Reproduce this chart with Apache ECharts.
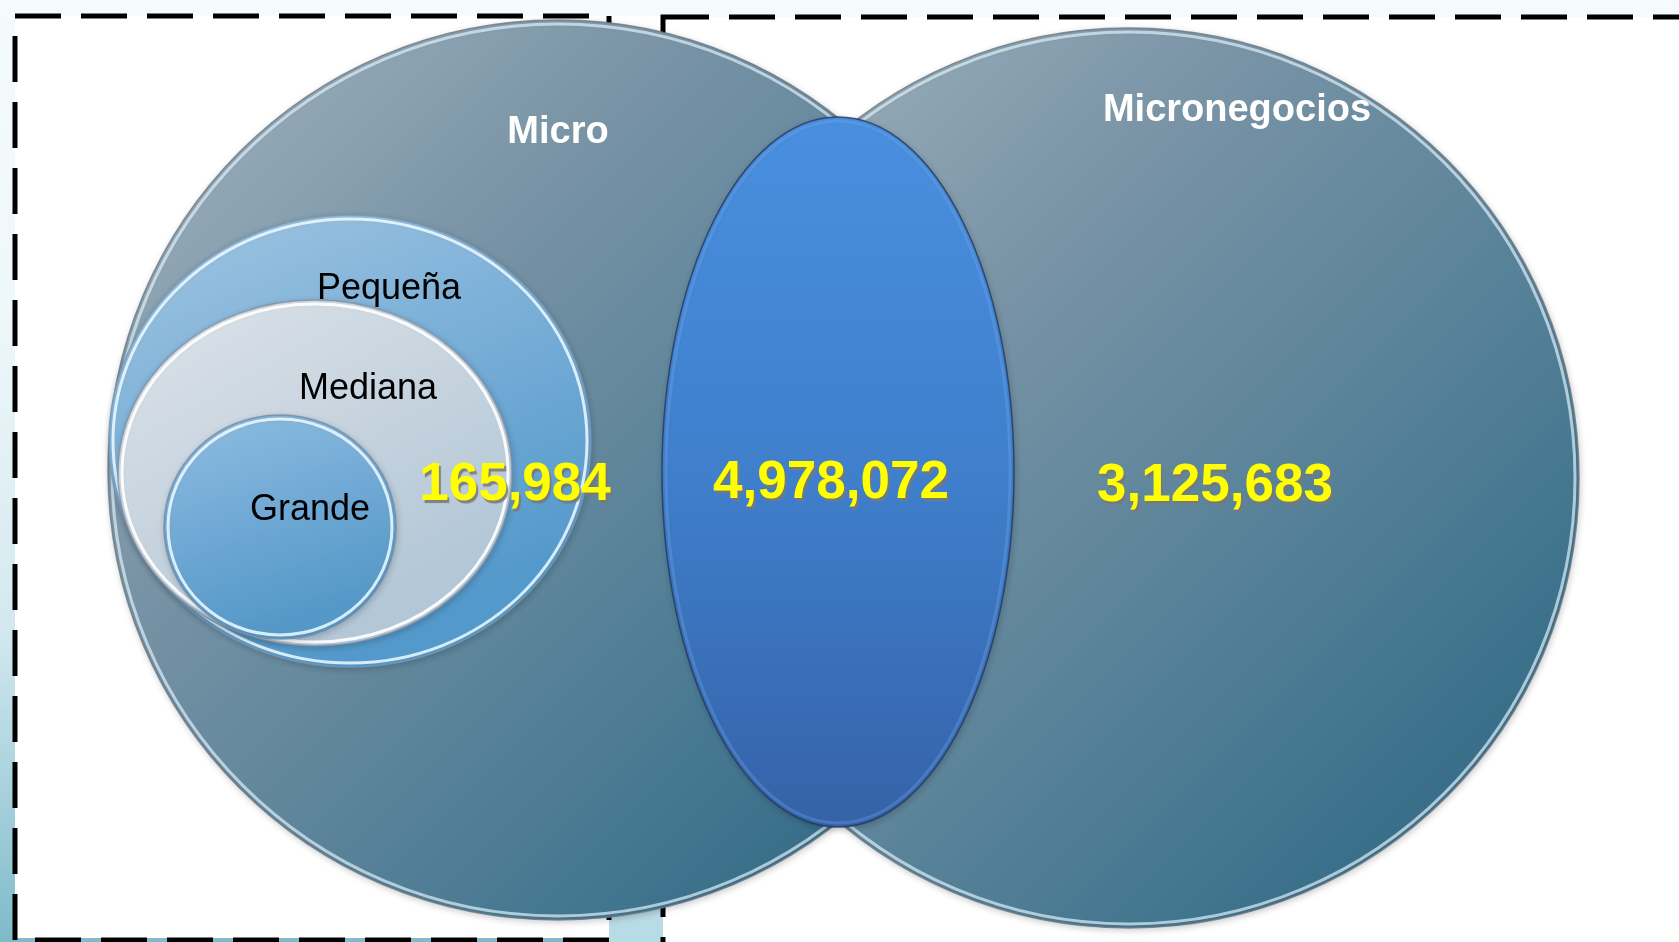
<!DOCTYPE html>
<html>
<head>
<meta charset="utf-8">
<title>Micro, Pequeña, Mediana, Grande y Micronegocios</title>
<script src="https://cdn.jsdelivr.net/npm/echarts@6/dist/echarts.min.js"></script>
<style>
  html, body { margin: 0; padding: 0; }
  #chart { width: 1679px; height: 942px; }
</style>
</head>
<body>
<div id="chart"></div>
<script>
// set names and counts
const setNames = ['Micro', 'Micronegocios', 'Pequeña', 'Mediana', 'Grande'];
const countValues = [165984, 4978072, 3125683];

// diagram layout, in drawing units (same scale as the axes)
const shapeCx = [558, 1129, 838, 350, 315, 280];
const shapeCy = [470, 478, 472, 441, 473, 527];
const shapeRx = [450, 450, 176, 241, 197, 116];
const shapeRy = [450, 450, 355, 226, 173, 112];
const nameX = [558, 1237, 389, 368, 310];
const nameY = [133, 111, 289, 389, 510];
const countX = [515, 831, 1215];
const countY = [485, 483, 486];

const FONT = 'Liberation Sans, Arial, sans-serif';

function grad(x2, y2, stops) {
    return {
        type: 'linear', x: 0, y: 0, x2: x2, y2: y2,
        colorStops: stops.map(function (c, i) {
            return { offset: i / (stops.length - 1), color: c };
        })
    };
}

// look of each shape: big circles, intersection, Pequeña, Mediana, Grande
const shapeLook = [
    { fill: grad(1, 1, ['#a4b6c2', '#7893a5', '#4f7d95', '#25627f']), edge: 'rgba(110,120,130,0.8)', rim: 'rgba(222,240,250,0.7)' },
    { fill: grad(1, 1, ['#a4b6c2', '#7893a5', '#4f7d95', '#25627f']), edge: 'rgba(110,120,130,0.8)', rim: 'rgba(222,240,250,0.7)' },
    { fill: grad(0, 1, ['#4a8fe0', '#3f7fcc', '#3562a8']), edge: 'rgba(35,55,95,0.8)', rim: 'rgba(120,175,240,0.3)' },
    { fill: grad(0.4, 1, ['#a2c6e1', '#7aafd8', '#5499cb']), edge: 'rgba(120,150,175,0.8)', rim: 'rgba(240,250,255,0.85)' },
    { fill: grad(0.5, 1, ['#dde3ea', '#c9d5df', '#b3c7d7']), edge: 'rgba(130,145,160,0.8)', rim: 'rgba(255,255,255,0.9)' },
    { fill: grad(0.3, 1, ['#8fbee0', '#72aad6', '#5498c7']), edge: 'rgba(110,140,170,0.8)', rim: 'rgba(240,250,255,0.85)' }
];

const shapeData = shapeCx.map(function (x, i) {
    return [x, shapeCy[i], shapeRx[i], shapeRy[i], i];
});

const nameData = setNames.map(function (n, i) {
    const big = i < 2;
    return {
        name: n,
        value: [nameX[i], nameY[i]],
        label: {
            color: big ? '#ffffff' : '#000000',
            fontWeight: big ? 'bold' : 'normal',
            fontSize: big ? 38 : 36
        }
    };
});

const countData = countValues.map(function (v, i) {
    return {
        name: v.toLocaleString('en-US'),
        value: [countX[i], countY[i]]
    };
});

const chart = echarts.init(document.getElementById('chart'));

const option = {
    animation: false,
    backgroundColor: grad(0, 1, ['#f5fbfd', '#eef7fa', '#d3e9ef', '#7fbacb']),
    grid: { left: 0, right: 0, top: 0, bottom: 0 },
    xAxis: { type: 'value', min: 0, max: 1679, show: false },
    yAxis: { type: 'value', min: 0, max: 942, inverse: true, show: false },
    graphic: [
        { type: 'rect', z: 0, shape: { x: 15, y: 16, width: 594, height: 922 }, style: { fill: '#ffffff' } },
        { type: 'rect', z: 0, shape: { x: 609, y: 16, width: 54, height: 890 }, style: { fill: '#ffffff' } },
        { type: 'rect', z: 0, shape: { x: 609, y: 906, width: 54, height: 36 }, style: { fill: '#b8dce5' } },
        { type: 'rect', z: 0, shape: { x: 663, y: 17, width: 1016, height: 925 }, style: { fill: '#ffffff' } },
        {
            type: 'rect', z: 1, shape: { x: 15, y: 16, width: 594, height: 924 },
            style: { fill: null, stroke: '#000', lineWidth: 5, lineDash: [46, 20] }
        },
        {
            type: 'rect', z: 1, shape: { x: 663, y: 17, width: 1100, height: 1000 },
            style: { fill: null, stroke: '#000', lineWidth: 5, lineDash: [46, 20] }
        }
    ],
    series: [
        {
            type: 'custom',
            z: 5,
            silent: true,
            data: shapeData,
            renderItem: function (params, api) {
                const c = api.coord([api.value(0), api.value(1)]);
                const s = api.size([api.value(2), api.value(3)]);
                const look = shapeLook[api.value(4)];
                return {
                    type: 'group',
                    children: [
                        {
                            type: 'ellipse',
                            shape: { cx: c[0], cy: c[1], rx: s[0], ry: s[1] },
                            style: {
                                fill: look.fill, stroke: look.edge, lineWidth: 1.5,
                                shadowColor: 'rgba(0,0,0,0.18)', shadowBlur: 6, shadowOffsetX: 1, shadowOffsetY: 2
                            }
                        },
                        {
                            type: 'ellipse',
                            shape: { cx: c[0], cy: c[1], rx: s[0] - 4, ry: s[1] - 4 },
                            style: { fill: null, stroke: look.rim, lineWidth: 3 }
                        }
                    ]
                };
            }
        },
        {
            type: 'scatter',
            z: 6,
            silent: true,
            symbolSize: 0,
            itemStyle: { opacity: 1 },
            data: nameData,
            label: {
                show: true,
                opacity: 1,
                position: 'inside',
                fontFamily: FONT,
                formatter: '{b}'
            }
        },
        {
            type: 'scatter',
            z: 7,
            silent: true,
            symbolSize: 0,
            itemStyle: { opacity: 1 },
            data: countData,
            label: {
                show: true,
                opacity: 1,
                position: 'inside',
                fontFamily: FONT,
                fontWeight: 'bold',
                fontSize: 53,
                color: '#ffff00',
                textShadowColor: 'rgba(120,120,120,0.9)',
                textShadowOffsetX: 2,
                textShadowOffsetY: 3,
                textShadowBlur: 1,
                formatter: '{b}'
            }
        }
    ]
};

chart.setOption(option);
</script>
</body>
</html>
